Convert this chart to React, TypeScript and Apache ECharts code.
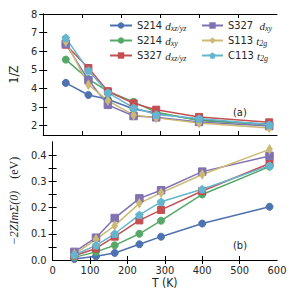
import React, { useEffect, useRef } from 'react';
import * as echarts from 'echarts';

const temperatures = [58, 116, 166, 232, 290, 400, 580];
const seriesNames = ['S214 dxz/yz', 'S214 dxy', 'S327 dxz/yz', 'S327 dxy', 'S113 t2g', 'C113 t2g'];

// Panel (a): 1/Z
const invZ_S214_xz = [4.3, 3.65, 3.42, 2.9, 2.68, 2.3, 2.08];
const invZ_S214_xy = [5.55, 4.5, 3.85, 3.28, 2.72, 2.28, 2.05];
const invZ_S327_xz = [6.35, 5.1, 3.85, 3.2, 2.86, 2.47, 2.18];
const invZ_S327_xy = [6.4, 4.45, 3.12, 2.52, 2.45, 2.2, 1.98];
const invZ_S113_t2g = [6.52, 4.2, 3.35, 2.57, 2.42, 2.15, 1.88];
const invZ_C113_t2g = [6.72, 4.97, 3.78, 2.96, 2.6, 2.38, 2.05];

// Panel (b): -2 Z Im Sigma(0) (eV)
const gam_S214_xz = [0.004, 0.014, 0.027, 0.06, 0.089, 0.139, 0.203];
const gam_S214_xy = [0.01, 0.031, 0.056, 0.1, 0.15, 0.25, 0.356];
const gam_S327_xz = [0.016, 0.044, 0.089, 0.151, 0.191, 0.263, 0.368];
const gam_S327_xy = [0.031, 0.085, 0.16, 0.235, 0.266, 0.337, 0.397];
const gam_S113_t2g = [0.022, 0.079, 0.131, 0.216, 0.256, 0.326, 0.422];
const gam_C113_t2g = [0.019, 0.056, 0.1, 0.172, 0.222, 0.27, 0.36];

const xTickValues = [100, 200, 300, 400, 500];
const xLabelValues = [0, 100, 200, 300, 400, 500, 600];
const invZTickValues = [2, 3, 4, 5, 6, 7, 8];
const gamLabelValues = [0, 0.1, 0.2, 0.3, 0.4];
const gamTickValues = [0.05, 0.1, 0.15, 0.2, 0.25, 0.3, 0.35, 0.4];

const invZData = [invZ_S214_xz, invZ_S214_xy, invZ_S327_xz, invZ_S327_xy, invZ_S113_t2g, invZ_C113_t2g];
const gamData = [gam_S214_xz, gam_S214_xy, gam_S327_xz, gam_S327_xy, gam_S113_t2g, gam_C113_t2g];

const colors = ['#4C72B0', '#55A868', '#C44E52', '#8172B2', '#CCB974', '#64B5CD'];
const symbols = [
  'circle',
  'circle',
  'rect',
  'rect',
  'path://M0,-1L0.6,0L0,1L-0.6,0Z',
  'path://M0,-1L0.951,-0.309L0.588,0.809L-0.588,0.809L-0.951,-0.309Z',
];
const symbolSizes: any[] = [7, 7, 7, 7.5, [5.5, 9], 7.5];

const legendLabels: Record<string, string> = {
  'S214 dxz/yz': '{s|S214 }{d|d}{sub|xz/yz}',
  'S214 dxy': '{s|S214 }{d|d}{sub|xy}',
  'S327 dxz/yz': '{s|S327 }{d|d}{sub|xz/yz}',
  'S327 dxy': '{s|S327  }{d|d}{sub|xy}',
  'S113 t2g': '{s|S113 }{d|t}{sub|2g}',
  'C113 t2g': '{s|C113 }{d|t}{sub|2g}',
};

const SANS = "'Liberation Sans Narrow', 'DejaVu Sans Condensed', 'Liberation Sans', sans-serif";
const SERIF = "'Liberation Serif', 'DejaVu Serif', serif";
const TXT = '#262626';

const legendRich = {
  s: { fontFamily: SANS, fontSize: 11, color: TXT, lineHeight: 14 },
  d: { fontFamily: SERIF, fontStyle: 'italic', fontSize: 11, color: TXT, lineHeight: 14 },
  sub: { fontFamily: SERIF, fontStyle: 'italic', fontSize: 8, color: TXT, lineHeight: 9, padding: [5, 0, 0, 0] },
};

const GRID_LEFT = 43;
const GRID_W = 234;

export default function App() {
  const ref = useRef<HTMLDivElement>(null);
  useEffect(() => {
    if (!ref.current) return;
    const chart = echarts.init(ref.current, null, { renderer: 'svg' });

    const axisLine = { show: true, lineStyle: { color: '#000', width: 1 } };
    const labelStyle = { fontFamily: SANS, fontSize: 11, color: TXT };

    const xAxisBase = (gridIndex: number, position: string, showLabel: boolean, extra: any = {}) => ({
      type: 'value',
      gridIndex,
      position,
      min: 0,
      max: 600,
      interval: 100,
      axisLine,
      splitLine: { show: false },
      axisTick: { show: true, inside: true, length: 4, customValues: xTickValues, lineStyle: { color: '#000' } },
      axisLabel: showLabel
        ? { show: true, margin: 5, customValues: xLabelValues, ...labelStyle }
        : { show: false },
      ...extra,
    });

    const series: any[] = [];
    for (let i = 0; i < seriesNames.length; i++) {
      const common = {
        type: 'line',
        name: seriesNames[i],
        symbol: symbols[i],
        symbolSize: symbolSizes[i],
        showSymbol: true,
        lineStyle: { color: colors[i], width: 1.5 },
        itemStyle: { color: colors[i], borderColor: colors[i] },
        color: colors[i],
        emphasis: { disabled: true },
      };
      series.push({
        ...common,
        xAxisIndex: 0,
        yAxisIndex: 0,
        data: temperatures.map((t, k) => [t, invZData[i][k]]),
      });
      series.push({
        ...common,
        xAxisIndex: 2,
        yAxisIndex: 2,
        data: temperatures.map((t, k) => [t, gamData[i][k]]),
      });
    }

    const legendCommon = {
      orient: 'vertical',
      top: 19,
      itemHeight: 8,
      itemGap: 2,
      padding: 0,
      selectedMode: false,
      formatter: (name: string) => legendLabels[name],
      textStyle: { rich: legendRich, color: TXT },
    };

    chart.setOption({
      animation: false,
      backgroundColor: '#fff',
      grid: [
        { left: GRID_LEFT, top: 14, width: GRID_W, height: 121 },
        { left: GRID_LEFT, top: 142, width: GRID_W, height: 118 },
      ],
      legend: [
        { ...legendCommon, left: 109, itemWidth: 22, data: seriesNames.slice(0, 3) },
        { ...legendCommon, left: 201, itemWidth: 21, data: seriesNames.slice(3, 6) },
      ],
      xAxis: [
        xAxisBase(0, 'bottom', false),
        xAxisBase(0, 'top', false),
        xAxisBase(1, 'bottom', true, {
          name: 'T (K)',
          nameLocation: 'middle',
          nameGap: 17,
          nameTextStyle: { fontFamily: SANS, fontSize: 12, color: TXT },
        }),
        xAxisBase(1, 'top', false),
      ],
      yAxis: [
        {
          type: 'value',
          gridIndex: 0,
          position: 'left',
          min: 1.5,
          max: 8,
          axisLine,
          splitLine: { show: false },
          axisTick: { show: true, inside: true, length: 4, customValues: invZTickValues, lineStyle: { color: '#000' } },
          axisLabel: { show: true, margin: 6, customValues: invZTickValues, ...labelStyle },
          name: '1/Z',
          nameLocation: 'middle',
          nameRotate: 90,
          nameGap: 11,
          nameTextStyle: { fontFamily: SANS, fontSize: 12, color: TXT },
        },
        {
          type: 'value',
          gridIndex: 0,
          position: 'right',
          min: 1.5,
          max: 8,
          axisLine,
          splitLine: { show: false },
          axisTick: { show: true, inside: true, length: 4, customValues: invZTickValues, lineStyle: { color: '#000' } },
          axisLabel: { show: false },
        },
        {
          type: 'value',
          gridIndex: 1,
          position: 'left',
          min: 0,
          max: 0.45,
          axisLine,
          splitLine: { show: false },
          axisTick: { show: true, inside: true, length: 4, customValues: gamTickValues, lineStyle: { color: '#000' } },
          axisLabel: {
            show: true,
            margin: 6,
            customValues: gamLabelValues,
            formatter: (v: number) => v.toFixed(1),
            ...labelStyle,
          },
          name: '{m|\u22122ZIm\u03A3(0)}{r|    (eV)}',
          nameLocation: 'middle',
          nameRotate: 90,
          nameGap: 21,
          nameTextStyle: {
            color: TXT,
            rich: {
              m: { fontFamily: SERIF, fontStyle: 'italic', fontSize: 12, color: TXT },
              r: { fontFamily: SERIF, fontSize: 12, color: TXT },
            },
          },
        },
        {
          type: 'value',
          gridIndex: 1,
          position: 'right',
          min: 0,
          max: 0.45,
          axisLine,
          splitLine: { show: false },
          axisTick: { show: true, inside: true, length: 4, customValues: gamTickValues, lineStyle: { color: '#000' } },
          axisLabel: { show: false },
        },
      ],
      graphic: [
        {
          type: 'text',
          left: 233,
          top: 107,
          style: { text: '(a)', fontFamily: SANS, fontSize: 11, fill: TXT },
        },
        {
          type: 'text',
          left: 233,
          top: 240,
          style: { text: '(b)', fontFamily: SANS, fontSize: 11, fill: TXT },
        },
      ],
      series,
    });

    return () => chart.dispose();
  }, []);

  return (
    <div
      ref={ref}
      style={{ position: 'fixed', left: 0, top: 0, width: 291, height: 291, background: '#fff' }}
    />
  );
}
